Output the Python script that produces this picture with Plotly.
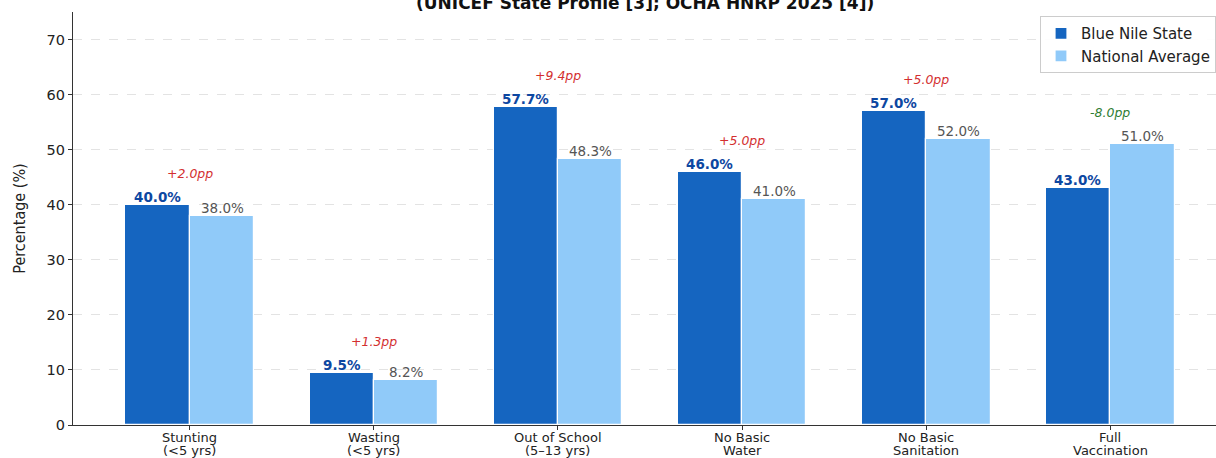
import plotly.graph_objects as go

categories = ["Stunting<br>(<5 yrs)", "Wasting<br>(<5 yrs)", "Out of School<br>(5–13 yrs)",
              "No Basic<br>Water", "No Basic<br>Sanitation", "Full<br>Vaccination"]
blue_nile = [40.0, 9.5, 57.7, 46.0, 57.0, 43.0]
national = [38.0, 8.2, 48.3, 41.0, 52.0, 51.0]
y_ticks = [0, 10, 20, 30, 40, 50, 60, 70]

BLUE = "#1565C0"
LIGHT = "#90CAF9"
FONT = "DejaVu Sans"
W = 0.35
x = list(range(len(categories)))

fig = go.Figure()
fig.add_trace(go.Bar(
    x=[i - W / 2 for i in x], y=blue_nile, width=W, name="Blue Nile State",
    marker=dict(color=BLUE, line=dict(color="white", width=1.2)),
))
fig.add_trace(go.Bar(
    x=[i + W / 2 for i in x], y=national, width=W, name="National Average",
    marker=dict(color=LIGHT, line=dict(color="white", width=1.2)),
))

ann = []
for i, (b, n) in enumerate(zip(blue_nile, national)):
    ann.append(dict(x=i - W / 2, y=b, text=f"<b>{b:.1f}%</b>", showarrow=False,
                    yanchor="bottom", yshift=-2,
                    font=dict(family=FONT, size=13.5, color="#0D47A1")))
    ann.append(dict(x=i + W / 2, y=n, text=f"{n:.1f}%", showarrow=False,
                    yanchor="bottom", yshift=-2,
                    font=dict(family=FONT, size=13.5, color="#555555")))
    d = b - n
    col = "#D32F2F" if d > 0 else "#2E7D32"
    ann.append(dict(x=i, y=max(b, n) + 5.7, text=f"<i>{d:+.1f}pp</i>", showarrow=False,
                    yanchor="middle", font=dict(family=FONT, size=12.5, color=col)))

# category labels (two tight lines, like the reference)
for i, cat in enumerate(categories):
    for j, line in enumerate(cat.split("<br>")):
        ann.append(dict(x=i, xref="x", y=0, yref="paper", text=line, showarrow=False,
                        yanchor="middle", yshift=-12 - 13.5 * j,
                        font=dict(family=FONT, size=13, color="#222222")))

ann.append(dict(xref="paper", yref="paper", x=0.5, y=1.0, yanchor="bottom", yshift=-3,
                text="<b>(UNICEF State Profile [3]; OCHA HNRP 2025 [4])</b>", showarrow=False,
                font=dict(family=FONT, size=17, color="#111111")))

fig.update_layout(
    width=1216, height=458,
    margin=dict(l=73, r=0, t=12, b=33),
    plot_bgcolor="white", paper_bgcolor="white",
    barmode="overlay", bargap=0,
    font=dict(family=FONT, size=13, color="#222222"),
    annotations=ann,
    showlegend=True,
    legend=dict(x=1.0, y=0.99, xanchor="right", yanchor="top",
                bgcolor="rgba(255,255,255,0.9)", bordercolor="#CCCCCC", borderwidth=1,
                font=dict(family=FONT, size=15, color="#222222"), tracegroupgap=0),
    xaxis=dict(
        range=[-0.635, 5.575], tickmode="array", tickvals=x, showticklabels=False,
        showline=True, linecolor="#333333", linewidth=1.2, ticks="outside",
        ticklen=4, tickcolor="#333333", showgrid=False, zeroline=False, automargin=False,
    ),
    yaxis=dict(
        range=[0, 75], tickmode="array", tickvals=y_ticks, automargin=False,
        showline=True, linecolor="#333333", linewidth=1.2, ticks="outside",
        ticklen=4, tickcolor="#333333", zeroline=False,
        showgrid=True, gridcolor="#E3E3E3", griddash="dash", gridwidth=1,
        tickfont=dict(family=FONT, size=14.5, color="#222222"),
        title=dict(text="Percentage (%)", font=dict(family="Liberation Sans Narrow, DejaVu Sans Condensed, DejaVu Sans", size=16, color="#222222"), standoff=16),
    ),
)

fig.write_html("out.html")
